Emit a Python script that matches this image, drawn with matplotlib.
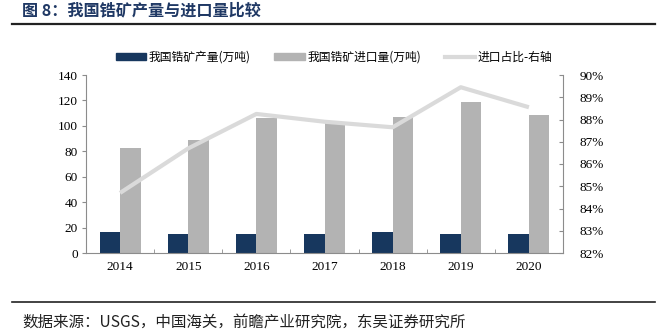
import matplotlib
matplotlib.use("Agg")
import matplotlib.pyplot as plt
from matplotlib.lines import Line2D
from matplotlib.patches import Patch
import numpy as np
from matplotlib.ticker import FuncFormatter

years = ["2014", "2015", "2016", "2017", "2018", "2019", "2020"]
production = [16.2, 15.2, 15.2, 15.2, 16.2, 15.2, 15.2]
imports = [82.8, 89.0, 106.0, 102.0, 106.8, 118.7, 108.7]
import_share = [84.7, 86.7, 88.25, 87.9, 87.65, 89.45, 88.55]

title = "图 8：我国锆矿产量与进口量比较"
source = "数据来源：USGS，中国海关，前瞻产业研究院，东吴证券研究所"
labels = ["我国锆矿产量(万吨)", "我国锆矿进口量(万吨)", "进口占比-右轴"]

cjk = ["Noto Sans CJK SC", "DejaVu Sans"]
serif = ["Liberation Serif", "Noto Sans CJK SC"]

navy = "#17375e"
gray = "#b3b3b3"
linec = "#dadada"
axc = "#8c8c8c"

fig = plt.figure(figsize=(6.66, 3.34), dpi=100)
ax = fig.add_axes([86/666, (334-253)/334, (563-86)/666, (253-75)/334])
x = np.arange(len(years))
w = 0.3
ax.bar(x - w/2, production, w, color=navy, zorder=2)
ax.bar(x + w/2, imports, w, color=gray, zorder=2)
ax.set_xlim(-0.5, len(years) - 0.5)
ax.set_ylim(0, 140)
ax.set_yticks(range(0, 141, 20))
ax.set_xticks(x)
ax.set_xticklabels(years)
ax.set_xticks(np.arange(0.5, len(years) - 0.5, 1), minor=True)
ax.tick_params(axis="x", which="major", length=0, pad=6)
ax.tick_params(axis="x", which="minor", length=3, direction="in", color=axc)
ax.tick_params(axis="y", length=3, direction="out", color=axc, pad=3)
for lab in ax.get_xticklabels() + ax.get_yticklabels():
    lab.set_family(serif)
    lab.set_fontsize(9.5)
for s in ["top", "right"]:
    ax.spines[s].set_visible(False)
for s in ["left", "bottom"]:
    ax.spines[s].set_color(axc)
    ax.spines[s].set_linewidth(0.8)

ax2 = ax.twinx()
ax2.plot(x, import_share, color=linec, lw=3, zorder=3, solid_capstyle="butt")
ax2.set_ylim(82, 90)
ax2.set_yticks(range(82, 91))
ax2.yaxis.set_major_formatter(FuncFormatter(lambda v, p: f"{int(v)}%"))
ax2.tick_params(axis="y", length=3, direction="in", color=axc, pad=12)
for lab in ax2.get_yticklabels():
    lab.set_family(serif)
    lab.set_fontsize(9.5)
for s in ["top", "left", "bottom"]:
    ax2.spines[s].set_visible(False)
ax2.spines["right"].set_color(axc)
ax2.spines["right"].set_linewidth(0.8)

handles = [Patch(color=navy), Patch(color=gray), Line2D([0], [0], color=linec, lw=3)]
fig.legend(handles, labels, loc="center", bbox_to_anchor=(334/666, 1 - 57/334), ncol=3,
           frameon=False, prop={"family": cjk, "size": 8.5}, handlelength=2.6,
           handleheight=0.6, handletextpad=0.2, columnspacing=2.0)

fig.text(22/666, 1 - 10/334, title, family=cjk, fontsize=11.6, fontweight="bold",
         color="#1f3864", va="center", ha="left")
fig.add_artist(Line2D([12/666, 655/666], [1 - 23.5/334, 1 - 23.5/334], color="#222222", lw=1.6))
fig.add_artist(Line2D([12/666, 655/666], [1 - 302/334, 1 - 302/334], color="#222222", lw=1.2))
fig.text(22/666, 1 - 322/334, source, family=cjk, fontsize=11.2, color="#222222",
         va="center", ha="left")

fig.savefig("out.png", dpi=100)
